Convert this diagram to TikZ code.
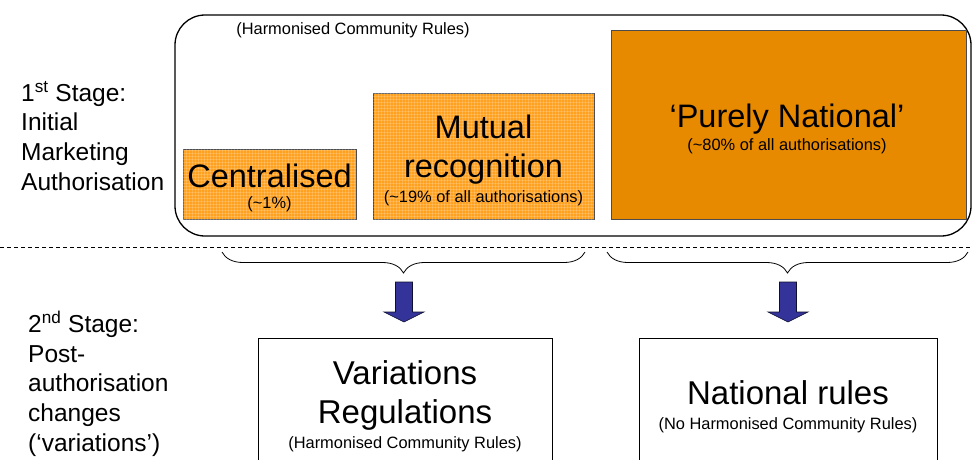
\documentclass[tikz,border=0pt]{standalone}
\usepackage{fontspec}
\setmainfont{Liberation Sans}
\usetikzlibrary{positioning, decorations.pathreplacing, patterns}
\newcommand{\fbig}{\fontsize{32.5}{37}\selectfont}
\newcommand{\fbot}{\fontsize{33}{35}\selectfont}
\newcommand{\fsmall}{\fontsize{16.4}{19}\selectfont}
\newcommand{\fside}{\fontsize{24.5}{29.6}\selectfont}
\definecolor{lightorange}{HTML}{FFA01E}
\definecolor{darkorange}{HTML}{E88A00}
\definecolor{arrowblue}{HTML}{333399}
\newcommand{\blockarrow}[1]{\filldraw[fill=arrowblue, draw=black!70!arrowblue, line width=0.6pt] (#1) ++(-8.5,0) -- ++(17,0) -- ++(0,30) -- ++(11.5,0) -- ++(-20,10) -- ++(-20,-10) -- ++(11.5,0) -- cycle;}

\begin{document}
\begin{tikzpicture}[
		x=1pt, y=-1pt,
		procbox/.style={draw=black!70, line width=0.8pt, rectangle, inner sep=0pt},
		gridded/.style={fill=lightorange, postaction={pattern=grid, pattern color=white, opacity=0.18}},
		rulebox/.style={draw, line width=0.9pt, rectangle, inner sep=0pt, minimum width=294pt, minimum height=160pt},
		bigtext/.style={font=\fbig, anchor=base, inner sep=0pt},
		bottext/.style={font=\fbot, anchor=base, inner sep=0pt},
		smalltext/.style={font=\fsmall, anchor=base, inner sep=0pt},
		sidetext/.style={font=\fside, align=left, anchor=base west, inner sep=0pt},
		curly/.style={decorate, decoration={brace, mirror, amplitude=21pt}, line width=0.8pt},
	]
	\useasboundingbox (0,0) rectangle (972,459);
	\clip (0,0) rectangle (972,459);

	% first stage
	\node[sidetext] (stage_one) at (21,190) {1\textsuperscript{st} Stage:\\Initial\\Marketing\\Authorisation};
	\node[draw, rectangle, rounded corners=30pt, line width=1.3pt, minimum width=796pt, minimum height=221pt] (harmonised) at (573,125.5) {};
	\node[smalltext] (harmonised_label) at (353,34) {(Harmonised Community Rules)};

	\node[procbox, gridded, minimum width=173pt, minimum height=70pt] (centralised) at (269.5,184) {};
	\node[bigtext] (centralised_title) at (269.5,187) {Centralised};
	\node[smalltext] (centralised_share) at (269.5,208) {(\textasciitilde1\%)};

	\node[procbox, gridded, minimum width=221pt, minimum height=126pt] (mutual) at (483.5,156) {};
	\node[bigtext] (mutual_title) at (483.5,138) {Mutual};
	\node[bigtext] (mutual_title2) at (483.5,177) {recognition};
	\node[smalltext] (mutual_share) at (483.5,202) {(\textasciitilde19\% of all authorisations)};

	\node[procbox, fill=darkorange, minimum width=355pt, minimum height=189pt] (national) at (788.5,124.5) {};
	\node[bigtext] (national_title) at (787,127) {`Purely National'};
	\node[smalltext] (national_share) at (787,150) {(\textasciitilde80\% of all authorisations)};

	% split between the stages
	\coordinate (split_l) at (0,247);
	\coordinate (split_r) at (972,247);
	\draw[dash pattern=on 4pt off 3pt, line width=0.7pt] (split_l) -- (split_r);

	% braces and arrows
	\coordinate (brace_l_a) at (222,252);
	\coordinate (brace_l_b) at (585,252);
	\coordinate (brace_r_a) at (607,252);
	\coordinate (brace_r_b) at (968,252);
	\draw[curly] (brace_l_a) -- (brace_l_b);
	\draw[curly] (brace_r_a) -- (brace_r_b);
	\coordinate (arrow_l) at (404,282);
	\coordinate (arrow_r) at (788,282);
	\blockarrow{arrow_l}
	\blockarrow{arrow_r}

	% second stage
	\node[sidetext] (stage_two) at (28,451) {2\textsuperscript{nd} Stage:\\Post-\\authorisation\\changes\\(`variations')};
	\node[rulebox] (variations) at (405,418) {};
	\node[bottext] (variations_title) at (405,384) {Variations};
	\node[bottext] (variations_title2) at (405,423) {Regulations};
	\node[smalltext] (variations_rules) at (405,448) {(Harmonised Community Rules)};

	\node[rulebox, minimum width=298pt] (national_rules) at (788,418) {};
	\node[bottext] (national_rules_title) at (788,404) {National rules};
	\node[smalltext] (national_rules_note) at (788,429) {(No Harmonised Community Rules)};
\end{tikzpicture}
\end{document}
